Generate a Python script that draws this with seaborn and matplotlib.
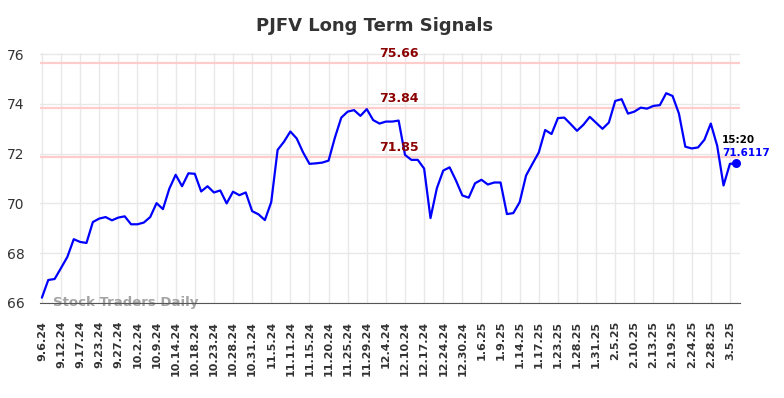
import numpy as np
import pandas as pd
import matplotlib
matplotlib.use("Agg")
import matplotlib.pyplot as plt
import seaborn as sns

# closing prices, one per session
prices = [
    66.21, 66.92, 66.96, 67.40, 67.85, 68.56, 68.45, 68.41, 69.25, 69.39,
    69.45, 69.32, 69.43, 69.48, 69.16, 69.16, 69.23, 69.45, 70.01, 69.77,
    70.59, 71.15, 70.69, 71.21, 71.19, 70.48, 70.69, 70.44, 70.52, 70.00,
    70.47, 70.33, 70.44, 69.69, 69.56, 69.33, 70.05, 72.15, 72.48, 72.89,
    72.61, 72.05, 71.59, 71.61, 71.64, 71.72, 72.65, 73.45, 73.69, 73.75,
    73.52, 73.79, 73.35, 73.21, 73.29, 73.29, 73.33, 71.95, 71.75, 71.75,
    71.40, 69.41, 70.61, 71.32, 71.45, 70.92, 70.32, 70.23, 70.81, 70.95,
    70.76, 70.84, 70.84, 69.57, 69.61, 70.05, 71.12, 71.59, 72.05, 72.95,
    72.79, 73.43, 73.45, 73.19, 72.92, 73.16, 73.48, 73.24, 73.00, 73.25,
    74.12, 74.19, 73.61, 73.69, 73.85, 73.81, 73.92, 73.95, 74.43, 74.32,
    73.61, 72.28, 72.21, 72.25, 72.56, 73.21, 72.32, 70.72, 71.59, 71.6117,
]

tick_labels = [
    "9.6.24", "9.12.24", "9.17.24", "9.23.24", "9.27.24", "10.2.24", "10.9.24",
    "10.14.24", "10.18.24", "10.23.24", "10.28.24", "10.31.24", "11.5.24",
    "11.11.24", "11.15.24", "11.20.24", "11.25.24", "11.29.24", "12.4.24",
    "12.10.24", "12.17.24", "12.24.24", "12.30.24", "1.6.25", "1.9.25",
    "1.14.25", "1.17.25", "1.23.25", "1.28.25", "1.31.25", "2.5.25",
    "2.10.25", "2.13.25", "2.19.25", "2.24.25", "2.28.25", "3.5.25",
]
tick_step = 3

levels = [75.66, 73.84, 71.85]
last_time = "15:20"

df = pd.DataFrame({"idx": np.arange(len(prices)), "price": prices})

sns.set_style("white")
fig = plt.figure(figsize=(7.84, 3.98), dpi=100)
ax = fig.add_axes([0.051, 0.239, 0.893, 0.628])

for lv in levels:
    ax.axhline(lv, color="#ffcccc", lw=1.6, zorder=1)

sns.lineplot(data=df, x="idx", y="price", ax=ax, color="#0000ff", lw=1.6, zorder=3)

last_i = len(prices) - 1
ax.scatter([last_i], [prices[-1]], color="#0000ff", s=30, zorder=4)

# level labels sit a little right of the middle
for lv in levels:
    ax.text(56, lv + 0.12, f"{lv:.2f}", color="#8b0000", fontsize=9,
            fontweight="bold", ha="center", va="bottom", zorder=5)

ax.text(last_i - 2.2, prices[-1] + 0.92, last_time, color="black", fontsize=7.5,
        fontweight="bold", ha="left", va="center")
ax.text(last_i - 2.2, prices[-1] + 0.4, f"{prices[-1]:.4f}", color="#0000ff",
        fontsize=7.5, fontweight="bold", ha="left", va="center")

ax.text(1.7, 66.03, "Stock Traders Daily", color="#999999", fontsize=9.5,
        fontweight="bold", ha="left", va="center", alpha=0.9, zorder=2)

ticks = np.arange(0, len(tick_labels) * tick_step, tick_step)
ax.set_xticks(ticks)
ax.set_xticklabels(tick_labels, rotation=90, fontsize=8, fontweight="bold", color="#333333")
ax.set_yticks([66, 68, 70, 72, 74, 76])
ax.tick_params(axis="y", labelsize=10, colors="#333333", length=0, pad=11)
ax.tick_params(axis="x", length=0, pad=13)
ax.set_xlim(-0.3, 109.6)
ax.set_ylim(66, 76.05)
ax.grid(True, color="#e8e8e8", lw=1)
ax.set_axisbelow(True)
ax.set_xlabel("")
ax.set_ylabel("")
for s in ["top", "right", "left"]:
    ax.spines[s].set_visible(False)
ax.spines["bottom"].set_color("#555555")

fig.text(375 / 784, 1 - 26 / 398, "PJFV Long Term Signals", fontsize=13,
         fontweight="bold", color="#333333", ha="center", va="center")

fig.savefig("out.png", dpi=100)
